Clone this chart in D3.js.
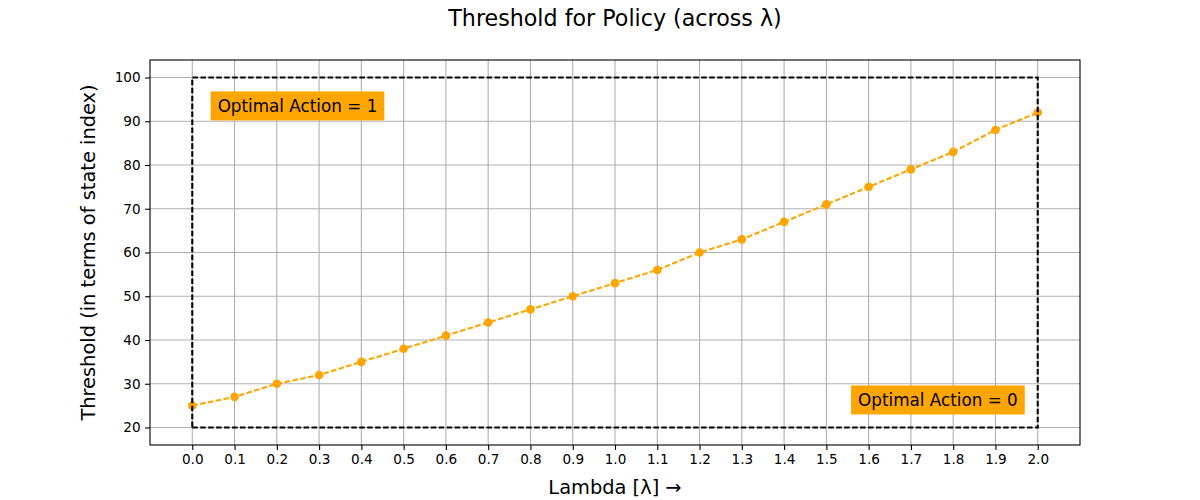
<!DOCTYPE html>
<html>
<head>
<meta charset="utf-8">
<script src="https://cdn.jsdelivr.net/npm/d3@7"></script>
<style>
  body { margin: 0; background: #fff; }
  svg { font-family: "DejaVu Sans", sans-serif; }
</style>
</head>
<body>
<div class="panel"></div>
<script>
// values
const lambdas = [0.0, 0.1, 0.2, 0.3, 0.4, 0.5, 0.6, 0.7, 0.8, 0.9, 1.0,
                 1.1, 1.2, 1.3, 1.4, 1.5, 1.6, 1.7, 1.8, 1.9, 2.0];
const thresholds = [25, 27, 30, 32, 35, 38, 41, 44, 47, 50, 53,
                    56, 60, 63, 67, 71, 75, 79, 83, 88, 92];
const yTicks = [20, 30, 40, 50, 60, 70, 80, 90, 100];
const regionBox = [[0, 20], [2, 20], [2, 100], [0, 100], [0, 20]];
const notes = [
  { text: "Optimal Action = 1", x: 0.06, y: 93.5 },
  { text: "Optimal Action = 0", x: 1.575, y: 26.3 }
];

const width = 1200;
const height = 500;
const margin = { top: 60, right: 120, bottom: 55, left: 150 };

const svg = d3.select(".panel")
    .append("svg")
    .attr("width", width)
    .attr("height", height)
    .attr("viewBox", `0 0 ${width} ${height}`);

const x = d3.scaleLinear()
    .domain([-0.1, 2.1])
    .range([margin.left, width - margin.right]);

const y = d3.scaleLinear()
    .domain([16, 104])
    .range([height - margin.bottom, margin.top]);

const dash = "5.55,2.4";

// grid
const grid = svg.append("g").attr("stroke", "#b0b0b0").attr("stroke-width", 1.1);
grid.selectAll(".vgrid")
    .data(lambdas)
    .enter()
    .append("line")
    .attr("x1", d => x(d)).attr("x2", d => x(d))
    .attr("y1", y.range()[0]).attr("y2", y.range()[1]);
grid.selectAll(".hgrid")
    .data(yTicks)
    .enter()
    .append("line")
    .attr("y1", d => y(d)).attr("y2", d => y(d))
    .attr("x1", x.range()[0]).attr("x2", x.range()[1]);

// axes
const xAxis = svg.append("g")
    .attr("transform", `translate(0, ${height - margin.bottom})`)
    .call(d3.axisBottom(x).tickValues(lambdas).tickFormat(d3.format(".1f"))
            .tickSizeInner(4.9).tickSizeOuter(0).tickPadding(4.5));
const yAxis = svg.append("g")
    .attr("transform", `translate(${margin.left}, 0)`)
    .call(d3.axisLeft(y).tickValues(yTicks)
            .tickSizeInner(4.9).tickSizeOuter(0).tickPadding(4.5));

[xAxis, yAxis].forEach(a => {
  a.select(".domain").remove();
  a.selectAll("text").attr("font-size", 13.6).attr("fill", "#000")
   .attr("font-family", "DejaVu Sans");
  a.selectAll("line").attr("stroke", "#000").attr("stroke-width", 1.1);
});

// frame
svg.append("rect")
    .attr("x", x.range()[0])
    .attr("y", y.range()[1])
    .attr("width", x.range()[1] - x.range()[0])
    .attr("height", y.range()[0] - y.range()[1])
    .attr("fill", "none")
    .attr("stroke", "#000")
    .attr("stroke-width", 1.1);

// threshold line
const line = d3.line().x((d, i) => x(lambdas[i])).y(d => y(d));
svg.append("path")
    .datum(thresholds)
    .attr("d", line)
    .attr("fill", "none")
    .attr("stroke", "orange")
    .attr("stroke-width", 2.1)
    .attr("stroke-dasharray", dash);

svg.selectAll(".dot")
    .data(thresholds)
    .enter()
    .append("circle")
    .attr("cx", (d, i) => x(lambdas[i]))
    .attr("cy", d => y(d))
    .attr("r", 4.3)
    .attr("fill", "orange");

// dashed region box
svg.append("path")
    .datum(regionBox)
    .attr("d", d3.line().x(d => x(d[0])).y(d => y(d[1])))
    .attr("fill", "none")
    .attr("stroke", "#000")
    .attr("stroke-width", 2.1)
    .attr("stroke-dasharray", dash);

// annotations
notes.forEach(n => {
  const g = svg.append("g");
  const t = g.append("text")
      .attr("x", x(n.x))
      .attr("y", y(n.y))
      .attr("dominant-baseline", "central")
      .attr("font-size", 16.8)
      .attr("fill", "#000")
      .text(n.text);
  const b = t.node().getBBox();
  g.insert("rect", "text")
      .attr("x", b.x - 7)
      .attr("y", y(n.y) - 14.5)
      .attr("width", b.width + 14)
      .attr("height", 29)
      .attr("fill", "orange");
});

// titles
svg.append("text")
    .attr("x", (x.range()[0] + x.range()[1]) / 2)
    .attr("y", 26)
    .attr("text-anchor", "middle")
    .attr("font-size", 22.2)
    .text("Threshold for Policy (across λ)");

svg.append("text")
    .attr("x", (x.range()[0] + x.range()[1]) / 2)
    .attr("y", 494)
    .attr("text-anchor", "middle")
    .attr("font-size", 19.4)
    .text("Lambda [λ] →");

svg.append("text")
    .attr("transform", `translate(95, ${(y.range()[0] + y.range()[1]) / 2}) rotate(-90)`)
    .attr("text-anchor", "middle")
    .attr("font-size", 19.4)
    .text("Threshold (in terms of state index)");
</script>
</body>
</html>
